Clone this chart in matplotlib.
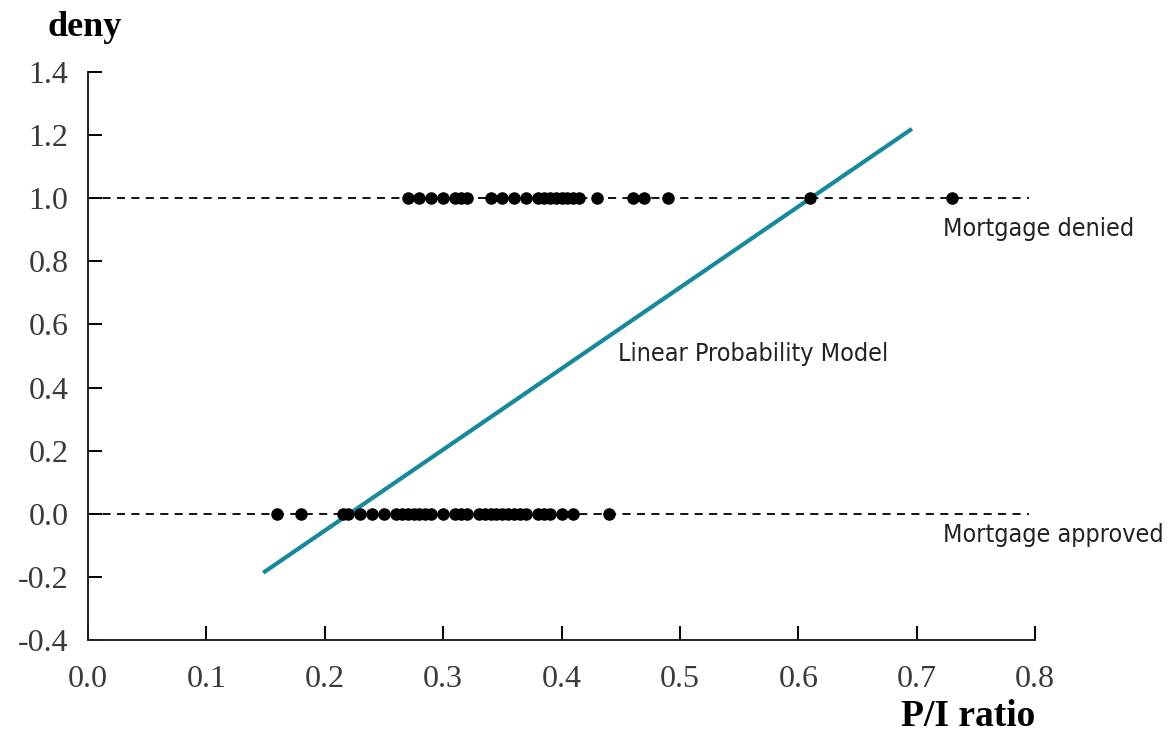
import numpy as np
import matplotlib
matplotlib.use('Agg')
import matplotlib.pyplot as plt

# P/I ratios of denied applications (deny = 1)
pi_denied = [0.27, 0.28, 0.29, 0.30, 0.31, 0.315, 0.32,
             0.34, 0.35, 0.36, 0.37, 0.38, 0.385, 0.39, 0.395, 0.40,
             0.405, 0.41, 0.415, 0.43, 0.46, 0.47, 0.49, 0.61, 0.73]
# P/I ratios of approved applications (deny = 0)
pi_approved = [0.16, 0.18, 0.215, 0.22, 0.23, 0.24, 0.25, 0.26, 0.265,
               0.27, 0.275, 0.28, 0.285, 0.29, 0.30, 0.31, 0.315, 0.32,
               0.33, 0.335, 0.34, 0.345, 0.35, 0.355, 0.36, 0.365, 0.37,
               0.38, 0.385, 0.39, 0.40, 0.41, 0.44]
# fitted linear probability model, end points
lpm_x = [0.148, 0.696]
lpm_y = [-0.187, 1.22]

x_ticks = [0.0, 0.1, 0.2, 0.3, 0.4, 0.5, 0.6, 0.7, 0.8]
y_ticks = [-0.4, -0.2, 0.0, 0.2, 0.4, 0.6, 0.8, 1.0, 1.2, 1.4]

serif = ['Liberation Serif', 'DejaVu Serif']
teal = '#17899b'

fig = plt.figure(figsize=(11.75, 7.35), dpi=100)
ax = fig.add_axes([0.0749, 0.1293, 0.806, 0.7727])

# reference lines at 0 and 1
for yv in (0.0, 1.0):
    ax.plot([0.0, 0.795], [yv, yv], color='black', lw=1.3,
            dashes=(4.5, 3.5), zorder=1)

ax.plot(lpm_x, lpm_y, color=teal, lw=3.0, solid_capstyle='butt', zorder=2)

ax.plot(pi_denied, np.ones(len(pi_denied)), 'o', color='black', ms=8, zorder=3)
ax.plot(pi_approved, np.zeros(len(pi_approved)), 'o', color='black', ms=8, zorder=3)

note = dict(family='DejaVu Sans', fontstretch='condensed', fontsize=18,
            ha='left', va='center', color='#222222')
ax.text(0.722, 0.903, 'Mortgage denied', **note)
ax.text(0.722, -0.067, 'Mortgage approved', **note)
ax.text(0.448, 0.507, 'Linear Probability Model', **note)

ax.set_xlim(0.0, 0.8)
ax.set_ylim(-0.4, 1.4)
ax.set_xticks(x_ticks)
ax.set_yticks(y_ticks)
ax.set_xticklabels(['%.1f' % v for v in x_ticks])
ax.set_yticklabels(['%.1f' % v for v in y_ticks])
ax.tick_params(direction='in', length=10, width=1.4, labelsize=23,
               labelcolor='#3a3a3a')
ax.tick_params(axis='x', pad=18)
ax.tick_params(axis='y', pad=14)
for lbl in ax.get_xticklabels() + ax.get_yticklabels():
    lbl.set_family(serif)

for side in ('top', 'right'):
    ax.spines[side].set_visible(False)
for side in ('left', 'bottom'):
    ax.spines[side].set_linewidth(1.4)
    ax.spines[side].set_color('#222222')

fig.text(0.072, 0.963, 'deny', family=serif, fontsize=26, fontweight='bold',
         ha='center', va='center')
fig.text(0.881, 0.025, 'P/I ratio', family=serif, fontsize=27, fontweight='bold',
         ha='right', va='center')

fig.savefig('out.png', dpi=100)
